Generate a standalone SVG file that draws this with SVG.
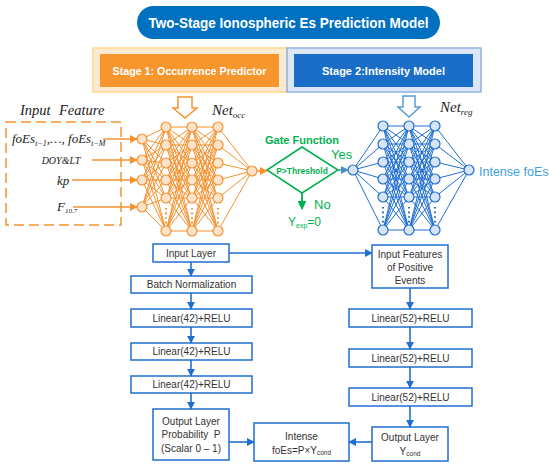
<svg xmlns="http://www.w3.org/2000/svg" width="550" height="468" viewBox="0 0 550 468">
<style>
.sans{font-family:"Liberation Sans",Arial,sans-serif}
.ser{font-family:"Liberation Serif","Times New Roman",serif;font-style:italic;fill:#222}
.box{fill:#fff;stroke:#1F6FD1;stroke-width:1.5}
.bt{font-family:"Liberation Sans",Arial,sans-serif;font-size:10px;fill:#333;text-anchor:middle}
.fl{stroke:#1F6FD1;stroke-width:1.6;fill:none;marker-end:url(#aB)}
.oa{stroke:#F5922F;stroke-width:1.6;fill:none;marker-end:url(#aO)}
.gr{fill:#00B050}
</style>
<defs>
<marker id="aO" viewBox="0 0 10 10" refX="9" refY="5" markerWidth="8" markerHeight="8" markerUnits="userSpaceOnUse" orient="auto"><path d="M0 0L10 5L0 10z" fill="#F5922F"/></marker>
<marker id="aB" viewBox="0 0 10 10" refX="9" refY="5" markerWidth="8" markerHeight="8" markerUnits="userSpaceOnUse" orient="auto"><path d="M0 0L10 5L0 10z" fill="#1F6FD1"/></marker>
<marker id="aG" viewBox="0 0 10 10" refX="9" refY="5" markerWidth="9" markerHeight="9" markerUnits="userSpaceOnUse" orient="auto"><path d="M0 0L10 5L0 10z" fill="#00B050"/></marker>
<marker id="aT" viewBox="0 0 10 10" refX="9" refY="5" markerWidth="8" markerHeight="8" markerUnits="userSpaceOnUse" orient="auto"><path d="M0 0L10 5L0 10z" fill="#4A8FC0"/></marker>
<path id="fan" d="M0 127L26 127M0 127L26 145M0 127L26 163M0 127L26 180M0 127L26 198M0 127L26 231M0 145L26 127M0 145L26 145M0 145L26 163M0 145L26 180M0 145L26 198M0 145L26 231M0 163L26 127M0 163L26 145M0 163L26 163M0 163L26 180M0 163L26 198M0 163L26 231M0 180L26 127M0 180L26 145M0 180L26 163M0 180L26 180M0 180L26 198M0 180L26 231M0 198L26 127M0 198L26 145M0 198L26 163M0 198L26 180M0 198L26 198M0 198L26 231M0 231L26 127M0 231L26 145M0 231L26 163M0 231L26 180M0 231L26 198M0 231L26 231"/>
<path id="outfan" d="M0 127L34 171M0 145L34 171M0 163L34 171M0 180L34 171M0 198L34 171M0 231L34 171"/>
<g id="col">
<circle cx="0" cy="127" r="5"/><circle cx="0" cy="145" r="5"/><circle cx="0" cy="163" r="5"/><circle cx="0" cy="180" r="5"/><circle cx="0" cy="198" r="5"/><circle cx="0" cy="231" r="5"/>
<line x1="0" y1="208" x2="0" y2="224" stroke-width="2" stroke-dasharray="1.6 3"/>
</g>
</defs>
<rect width="550" height="468" fill="#fff"/>

<g id="title">
<rect x="137" y="6" width="303" height="33" rx="16.5" fill="#0070C0"/>
<text x="288.5" y="28" class="sans" font-size="15" font-weight="bold" fill="#fff" text-anchor="middle" textLength="280" lengthAdjust="spacingAndGlyphs">Two-Stage Ionospheric Es Prediction Model</text>
</g>

<g id="stage1">
<rect x="93" y="48" width="194" height="44" fill="#FDEAD2" stroke="#FFD98E" stroke-width="1.5"/>
<rect x="100" y="54" width="179" height="33" fill="#F7962D"/>
<text x="189.5" y="75" class="sans" font-size="11.5" font-weight="bold" fill="#fff" text-anchor="middle" textLength="154" lengthAdjust="spacingAndGlyphs">Stage 1: Occurrence Predictor</text>
</g>
<g id="stage2">
<rect x="287" y="48" width="194" height="44" fill="#DCE6F4" stroke="#8DB3E2" stroke-width="1.5"/>
<rect x="294" y="54" width="179" height="33" fill="#1A6EC8"/>
<text x="383.5" y="75" class="sans" font-size="11.5" font-weight="bold" fill="#fff" text-anchor="middle" textLength="123" lengthAdjust="spacingAndGlyphs">Stage 2:Intensity Model</text>
</g>

<g id="input-features">
<text x="20" y="115" class="ser" font-size="14.5">Input</text>
<text x="59" y="115" class="ser" font-size="14.5">Feature</text>
<rect x="6" y="122" width="115" height="103" fill="none" stroke="#F5922F" stroke-width="1.5" stroke-dasharray="10 5"/>
<text x="12" y="143" class="ser" font-size="13">foEs<tspan font-size="8" dy="3">t−1</tspan><tspan dy="-3">,…, foEs</tspan><tspan font-size="8" dy="3">t−M</tspan></text>
<text x="61" y="164" class="ser" font-size="10" text-anchor="middle">DOY&amp;LT</text>
<text x="57" y="185" class="ser" font-size="13">kp</text>
<text x="57" y="211" class="ser" font-size="13">F<tspan font-size="7" dy="2">10.7</tspan></text>
</g>

<g id="net-occ">
<path d="M178 97H192V108H197L185 118L173 108H178Z" fill="#fff" stroke="#F5922F" stroke-width="1.5"/>
<text x="212" y="115" class="ser" font-size="15">Net<tspan font-size="9" dy="3">occ</tspan></text>
<g stroke="#F5922F" stroke-width="1" fill="none">
<path d="M142 139L166 127M142 139L166 145M142 139L166 163M142 139L166 180M142 139L166 198M142 139L166 231M142 160L166 127M142 160L166 145M142 160L166 163M142 160L166 180M142 160L166 198M142 160L166 231M142 180L166 127M142 180L166 145M142 180L166 163M142 180L166 180M142 180L166 198M142 180L166 231M142 207L166 127M142 207L166 145M142 207L166 163M142 207L166 180M142 207L166 198M142 207L166 231"/>
<use href="#fan" x="166"/>
<use href="#fan" x="192"/>
<use href="#outfan" x="218"/>
</g>
<g fill="#FCE3CA" stroke="#F5922F" stroke-width="1.2">
<circle cx="142" cy="139" r="5"/><circle cx="142" cy="160" r="5"/><circle cx="142" cy="180" r="5"/><circle cx="142" cy="207" r="5"/>
<use href="#col" x="166"/><use href="#col" x="192"/><use href="#col" x="218"/>
<circle cx="252" cy="171" r="5"/>
</g>
</g>

<g id="gate">
<text x="302" y="144" class="sans gr" font-size="11" font-weight="bold" text-anchor="middle">Gate Function</text>
<path d="M302 147L338 170L302 193L267 170Z" fill="#fff" stroke="#00B050" stroke-width="1.5"/>
<text x="302" y="173.5" class="sans gr" font-size="8.5" font-weight="bold" text-anchor="middle">P&gt;Threshold</text>
<text x="331" y="159" class="sans gr" font-size="13">Yes</text>
<text x="314" y="209" class="sans gr" font-size="13">No</text>
<text x="288" y="226" class="sans gr" font-size="12">Y<tspan font-size="7" dy="2">exp</tspan><tspan dy="-2">=0</tspan></text>
</g>

<g id="net-reg">
<path d="M403 96H415V107H420L409 117L398 107H403Z" fill="#fff" stroke="#5B9BD5" stroke-width="1.5"/>
<text x="440" y="112" class="ser" font-size="15">Net<tspan font-size="9" dy="3">reg</tspan></text>
<g transform="translate(0,-1)">
<g stroke="#1F6FD1" stroke-width="1" fill="none">
<path d="M353 171L383 127M353 171L383 145M353 171L383 163M353 171L383 180M353 171L383 198M353 171L383 231"/>
<use href="#fan" x="383"/>
<use href="#fan" x="409"/>
<use href="#outfan" x="435"/>
</g>
<g fill="#D8E4F4" stroke="#1F6FD1" stroke-width="1.2">
<circle cx="353" cy="171" r="5"/>
<use href="#col" x="383"/><use href="#col" x="409"/><use href="#col" x="435"/>
<circle cx="469" cy="171" r="5"/>
</g>
</g>
<text x="479" y="176" class="sans" font-size="12.5" fill="#3FA0DC">Intense foEs</text>
</g>

<g id="input-layer"><rect class="box" x="153" y="244" width="76" height="18"/><text class="bt" x="191" y="256.5">Input Layer</text></g>
<g id="batch-norm"><rect class="box" x="131" y="276" width="121" height="17"/><text class="bt" x="191.5" y="288">Batch Normalization</text></g>
<g id="lin42-1"><rect class="box" x="131" y="309" width="121" height="18"/><text class="bt" x="191.5" y="321.5">Linear(42)+RELU</text></g>
<g id="lin42-2"><rect class="box" x="131" y="343" width="121" height="17"/><text class="bt" x="191.5" y="355">Linear(42)+RELU</text></g>
<g id="lin42-3"><rect class="box" x="131" y="376" width="121" height="17"/><text class="bt" x="191.5" y="388">Linear(42)+RELU</text></g>
<g id="out1"><rect class="box" x="153" y="409" width="76" height="51"/>
<text class="bt" x="191" y="424.5">Output Layer</text>
<text class="bt" x="191" y="437.5">Probability&#160; P</text>
<text class="bt" x="191" y="451.5">(Scalar 0 – 1)</text></g>

<g id="pos-events"><rect class="box" x="372" y="245" width="76" height="43"/>
<text class="bt" x="410" y="257.5">Input Features</text>
<text class="bt" x="410" y="270.5">of Positive</text>
<text class="bt" x="410" y="283.5">Events</text></g>
<g id="lin52-1"><rect class="box" x="349" y="309" width="123" height="18"/><text class="bt" x="410.5" y="321.5">Linear(52)+RELU</text></g>
<g id="lin52-2"><rect class="box" x="349" y="349" width="123" height="18"/><text class="bt" x="410.5" y="361.5">Linear(52)+RELU</text></g>
<g id="lin52-3"><rect class="box" x="349" y="388" width="123" height="18"/><text class="bt" x="410.5" y="400.5">Linear(52)+RELU</text></g>
<g id="out2"><rect class="box" x="372" y="427" width="76" height="34"/>
<text class="bt" x="410" y="440.5">Output Layer</text>
<text class="bt" x="410" y="454.5">Y<tspan font-size="6.5" dy="1">cond</tspan></text></g>

<g id="intense"><rect class="box" x="254" y="423" width="95" height="38"/>
<text class="bt" x="301.5" y="439.5">Intense</text>
<text class="bt" x="301.5" y="453.5">foEs=P×Y<tspan font-size="6.5" dy="1">cond</tspan></text></g>

<g id="connectors">
<line class="oa" x1="103" y1="139" x2="137" y2="139"/>
<line class="oa" x1="92" y1="160" x2="137" y2="160"/>
<line class="oa" x1="72" y1="180" x2="137" y2="180"/>
<line class="oa" x1="73" y1="207" x2="137" y2="207"/>
<line class="oa" x1="257" y1="171" x2="267" y2="171"/>
<line x1="338" y1="170" x2="348" y2="170" stroke="#4A8FC0" stroke-width="1.6" marker-end="url(#aT)"/>
<line x1="302" y1="193" x2="302" y2="209" stroke="#00B050" stroke-width="1.8" marker-end="url(#aG)"/>
<line class="fl" x1="191" y1="262" x2="191" y2="276"/>
<line class="fl" x1="191" y1="293" x2="191" y2="309"/>
<line class="fl" x1="191" y1="327" x2="191" y2="343"/>
<line class="fl" x1="191" y1="360" x2="191" y2="376"/>
<line class="fl" x1="191" y1="393" x2="191" y2="409"/>
<line class="fl" x1="229" y1="253" x2="372" y2="253"/>
<line class="fl" x1="410" y1="288" x2="410" y2="309"/>
<line class="fl" x1="410" y1="327" x2="410" y2="349"/>
<line class="fl" x1="410" y1="367" x2="410" y2="388"/>
<line class="fl" x1="410" y1="406" x2="410" y2="427"/>
<line class="fl" x1="229" y1="442" x2="254" y2="442"/>
<line class="fl" x1="372" y1="442" x2="349" y2="442"/>
</g>
</svg>
